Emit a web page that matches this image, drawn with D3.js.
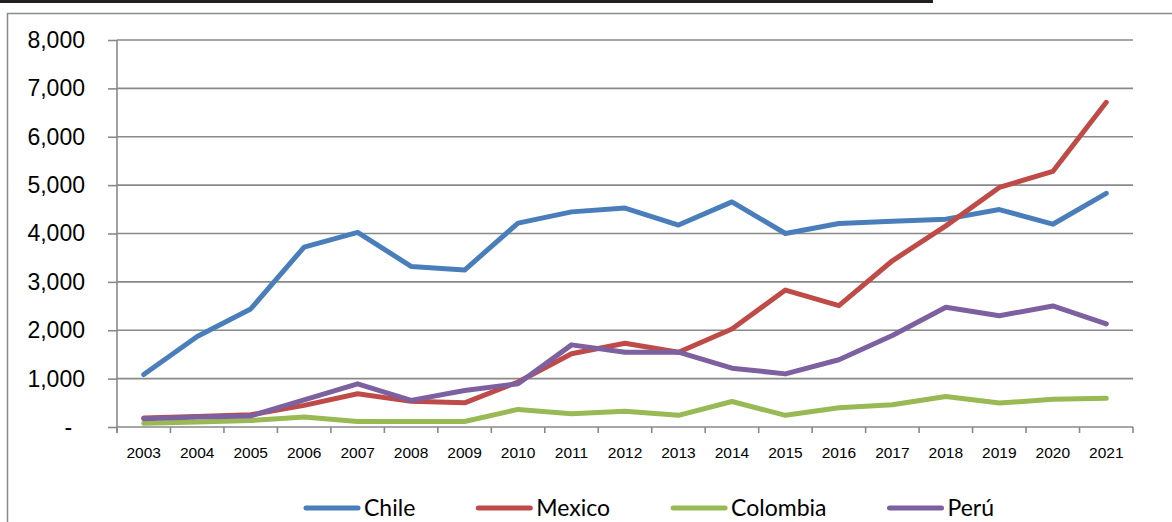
<!DOCTYPE html>
<html>
<head>
<meta charset="utf-8">
<script src="https://cdn.jsdelivr.net/npm/d3@7"></script>
<style>
    body { margin: 0; background: #fff; }
    svg { display: block; font-family: Lato, "Open Sans", sans-serif; }
    .y-axis text { font-size: 23px; fill: #000; }
    .x-axis text { font-size: 15.5px; fill: #000; }
    .legend text { font-size: 23px; fill: #000; }
</style>
</head>
<body>
<svg width="1172" height="522"></svg>
<script>
// Data
var years = ['2003', '2004', '2005', '2006', '2007', '2008', '2009', '2010', '2011', '2012',
             '2013', '2014', '2015', '2016', '2017', '2018', '2019', '2020', '2021'];
var chile    = [1085, 1870, 2440, 3720, 4025, 3320, 3245, 4215, 4447, 4525,
                4175, 4653, 4000, 4206, 4255, 4297, 4495, 4192, 4830];
var mexico   = [185, 215, 252, 447, 687, 530, 500, 930, 1515, 1732,
                1546, 2027, 2830, 2509, 3436, 4158, 4952, 5283, 6712];
var colombia = [75, 105, 135, 205, 115, 115, 115, 364, 275, 328,
                241, 527, 241, 398, 460, 630, 495, 572, 592];
var peru     = [172, 205, 228, 562, 893, 550, 755, 893, 1698, 1546,
                1546, 1216, 1098, 1390, 1890, 2474, 2300, 2502, 2132];
var seriesNames = ['Chile', 'Mexico', 'Colombia', 'Perú'];
var seriesColors = ['#4a7ebb', '#be4b48', '#98b954', '#7d60a0'];
var yTicks = [0, 1000, 2000, 3000, 4000, 5000, 6000, 7000, 8000];

var series = [chile, mexico, colombia, peru].map(function(values, i) {
    return {name: seriesNames[i], color: seriesColors[i], values: values};
});

var svg = d3.select('svg');

// Plot area
var plot = {l: 117, r: 1133, t: 40, b: 427};

// black rule at the very top and the chart frame
svg.append('rect')
    .attr('x', 0).attr('y', 0)
    .attr('width', 933).attr('height', 3)
    .attr('fill', '#231f20');

svg.append('rect')
    .attr('x', 7.5).attr('y', 13.5)
    .attr('width', 1200).attr('height', 600)
    .attr('fill', 'none')
    .attr('stroke', '#8a8a8a')
    .attr('stroke-width', 1.5);

var x = d3.scaleBand()
    .domain(years)
    .range([plot.l, plot.r])
    .padding(0);

var y = d3.scaleLinear()
    .domain([0, 8000])
    .range([plot.b, plot.t]);

// horizontal gridlines
svg.append('g')
    .attr('class', 'grid')
    .selectAll('line')
    .data(yTicks)
    .enter()
    .append('line')
    .attr('x1', plot.l)
    .attr('x2', plot.r)
    .attr('y1', d => y(d))
    .attr('y2', d => y(d))
    .attr('stroke', '#898989')
    .attr('stroke-width', 1.6);

// y axis (Excel accounting format shows zero as a dash)
var yAxis = d3.axisLeft(y)
    .tickValues(yTicks)
    .tickSize(9)
    .tickPadding(23)
    .tickFormat(d => d === 0 ? '-\u00a0\u00a0' : d3.format(',')(d));

var yG = svg.append('g')
    .attr('class', 'y-axis')
    .attr('transform', 'translate(' + plot.l + ',0)')
    .call(yAxis);
yG.select('.domain').remove();
yG.selectAll('.tick line').attr('stroke', '#898989').attr('stroke-width', 1.6);

svg.append('line')
    .attr('x1', plot.l).attr('x2', plot.l)
    .attr('y1', plot.t).attr('y2', plot.b + 6)
    .attr('stroke', '#898989')
    .attr('stroke-width', 1.6);

// x axis: labels centred in the bands, tick marks on band edges
var xAxis = d3.axisBottom(x)
    .tickSize(0)
    .tickPadding(20);

var xG = svg.append('g')
    .attr('class', 'x-axis')
    .attr('transform', 'translate(0,' + plot.b + ')')
    .call(xAxis);
xG.select('.domain').remove();

svg.append('g')
    .selectAll('line')
    .data(years.map(d => x(d)).concat([x.range()[1]]))
    .enter()
    .append('line')
    .attr('x1', d => d).attr('x2', d => d)
    .attr('y1', plot.b).attr('y2', plot.b + 6)
    .attr('stroke', '#898989')
    .attr('stroke-width', 1.6);

// series lines
var line = d3.line()
    .x((d, i) => x(years[i]) + x.bandwidth() / 2)
    .y(d => y(d));

svg.append('g')
    .selectAll('path')
    .data(series)
    .enter()
    .append('path')
    .attr('d', d => line(d.values))
    .attr('fill', 'none')
    .attr('stroke', d => d.color)
    .attr('stroke-width', 5)
    .attr('stroke-linejoin', 'round')
    .attr('stroke-linecap', 'round');

// legend along the bottom
var legend = svg.append('g').attr('class', 'legend');
var lx = 306;
series.forEach(function(s) {
    legend.append('line')
        .attr('x1', lx).attr('x2', lx + 52)
        .attr('y1', 508).attr('y2', 508)
        .attr('stroke', s.color)
        .attr('stroke-width', 5)
        .attr('stroke-linecap', 'round');
    var t = legend.append('text')
        .attr('x', lx + 58)
        .attr('y', 516)
        .text(s.name);
    lx += 58 + t.node().getComputedTextLength() + 63;
});
</script>
</body>
</html>
